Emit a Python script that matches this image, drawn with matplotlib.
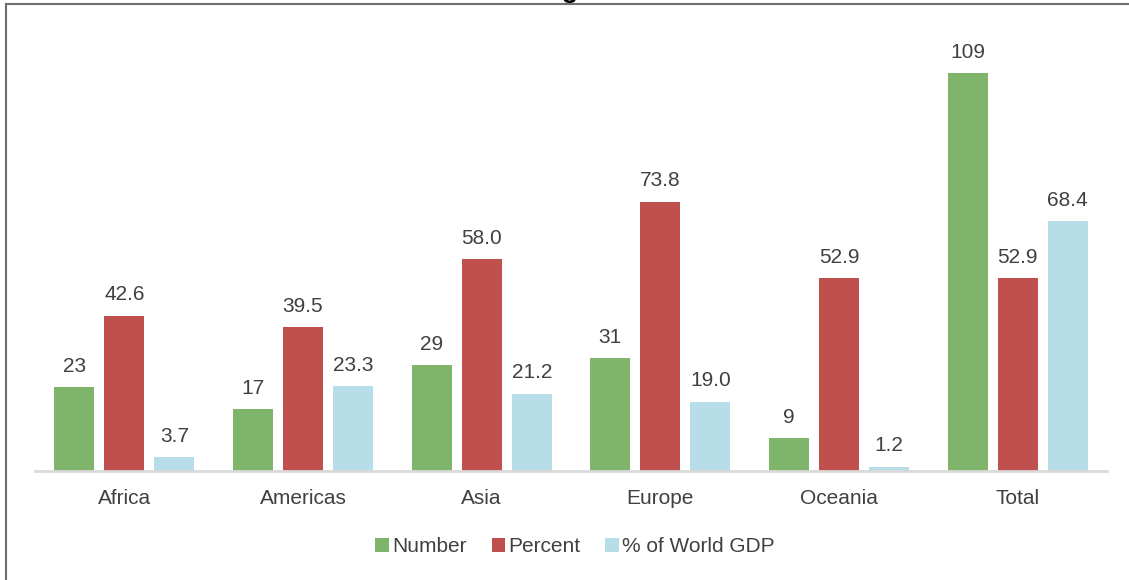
import matplotlib
matplotlib.use("Agg")
import matplotlib.pyplot as plt
from matplotlib.patches import Rectangle
import numpy as np

regions = ["Africa", "Americas", "Asia", "Europe", "Oceania", "Total"]
number = [23, 17, 29, 31, 9, 109]
percent = [42.6, 39.5, 58.0, 73.8, 52.9, 52.9]
gdp_share = [3.7, 23.3, 21.2, 19.0, 1.2, 68.4]

series_names = ["Number", "Percent", "% of World GDP"]
series_labels = ["{:.0f}", "{:.1f}", "{:.1f}"]
colors = ["#7FB56B", "#C0504D", "#B7DDE8"]
text_color = "#404040"

plt.rcParams["font.family"] = ["Liberation Sans", "DejaVu Sans"]

W, H = 1129, 580
fig = plt.figure(figsize=(W / 100, H / 100), dpi=100)

# outer frame (only top and left edges fall inside the canvas)
fig.patches.append(Rectangle((6 / W, -0.1), 1.2, 1 - 4.5 / H + 0.1,
                             transform=fig.transFigure, fill=False,
                             edgecolor="#6E6E6E", linewidth=1.5))

ax_left, ax_right = 35, 1107
ax_bottom, ax_top = 471, 30
ax = fig.add_axes([ax_left / W, 1 - ax_bottom / H,
                   (ax_right - ax_left) / W, (ax_bottom - ax_top) / H])

x = np.arange(len(regions))
width = 0.224
step = 0.28
for i, (vals, name, fmt, col) in enumerate(
        zip([number, percent, gdp_share], series_names, series_labels, colors)):
    bars = ax.bar(x + (i - 1) * step, vals, width=width, color=col, label=name,
                  zorder=2)
    for b, v in zip(bars, vals):
        ax.annotate(fmt.format(v), (b.get_x() + b.get_width() / 2, v),
                    xytext=(0, 11), textcoords="offset points",
                    ha="center", va="baseline", fontsize=15, color=text_color)

ax.set_xlim(-0.5, len(regions) - 0.5)
ax.set_ylim(0, (ax_bottom - ax_top) / 3.65)
ax.set_xticks(x)
ax.set_xticklabels(regions, fontsize=15, color=text_color)
ax.tick_params(axis="x", length=0, pad=13)
ax.set_yticks([])
for s in ["top", "right", "left"]:
    ax.spines[s].set_visible(False)
ax.spines["bottom"].set_color("#D9D9D9")
ax.spines["bottom"].set_linewidth(2)
ax.spines["bottom"].set_zorder(3)

handles, labels = ax.get_legend_handles_labels()
leg = fig.legend(handles, labels, loc="center", bbox_to_anchor=(575 / W, 1 - 547 / H),
                 ncol=3, frameon=False, fontsize=15, handlelength=0.65,
                 handleheight=0.65, handletextpad=0.15, columnspacing=1.2)
for t in leg.get_texts():
    t.set_color(text_color)

# chart title, positioned so that its "g" sits near the horizontal middle
title = "Overall Ranking of States"
renderer = fig.canvas.get_renderer()
probe = fig.text(0, 0, "Overall Rankin", fontsize=19, fontweight="bold")
prefix_w = probe.get_window_extent(renderer).width
probe.remove()
g_probe = fig.text(0, 0, "g", fontsize=19, fontweight="bold")
g_w = g_probe.get_window_extent(renderer).width
g_probe.remove()
x_start = 570 - g_w / 2 - prefix_w
fig.text(x_start / W, 1 + 2 / H, title, fontsize=19, fontweight="bold",
         color="black", ha="left", va="baseline")

fig.savefig("out.png", dpi=100)
